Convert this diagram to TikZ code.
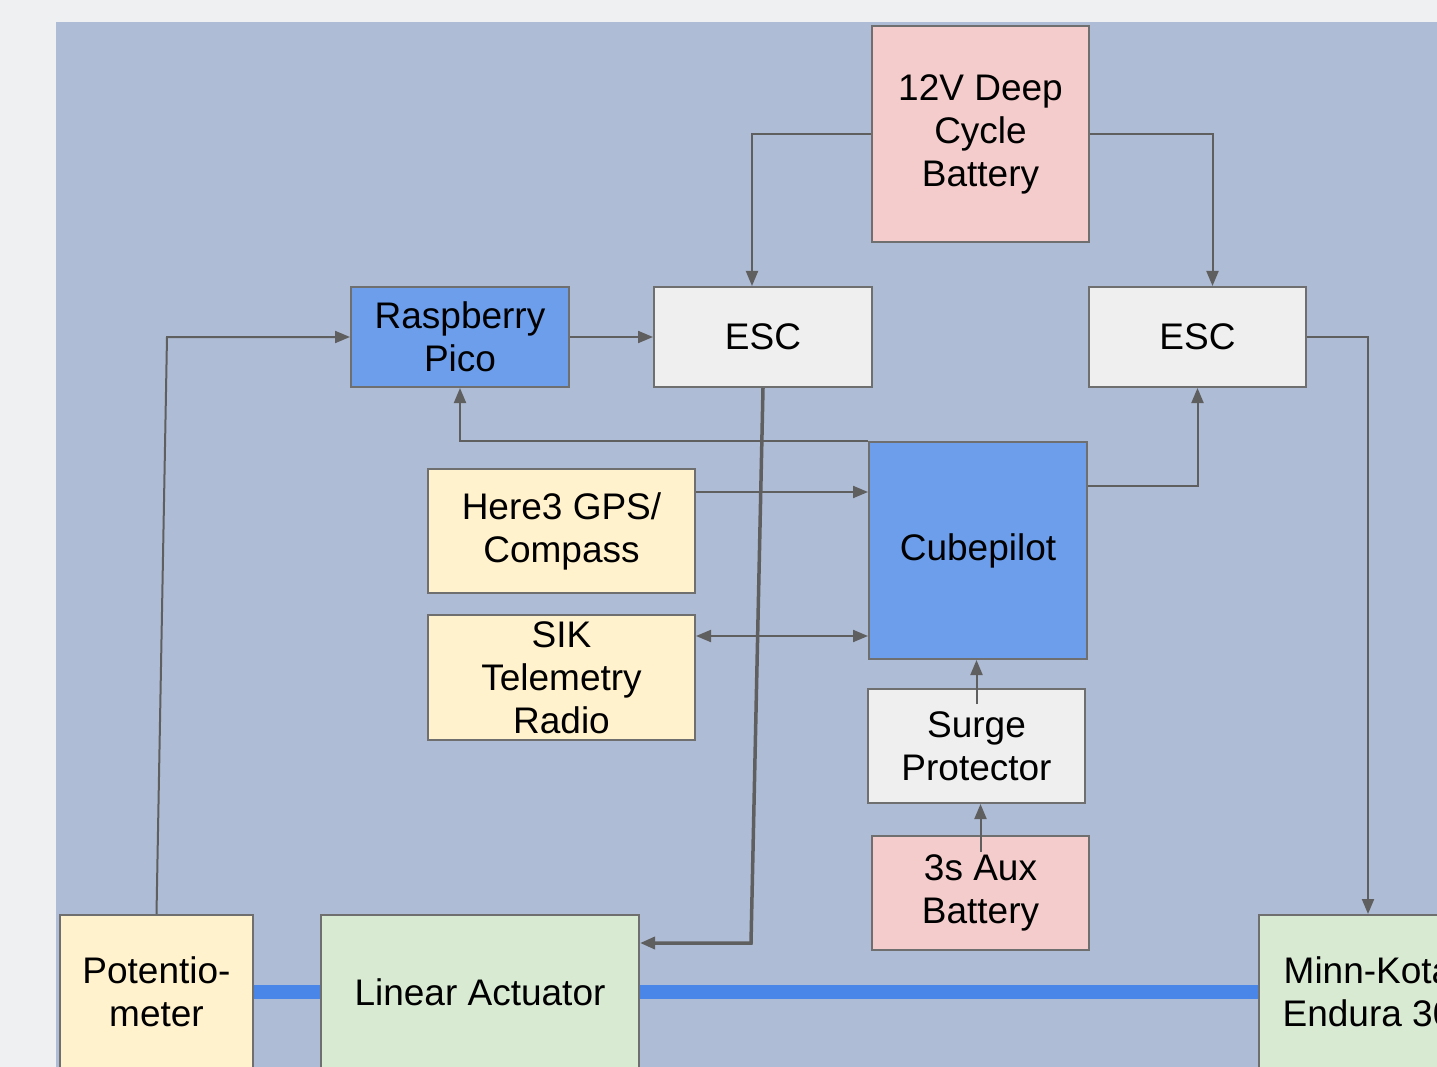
\documentclass[tikz,border=0pt]{standalone}
\usepackage{fontspec}
\setmainfont{Liberation Sans}
\usetikzlibrary{arrows.meta}
\definecolor{pagebg}{HTML}{EFF0F2}
\definecolor{panelbg}{HTML}{AEBCD5}
\definecolor{powerred}{HTML}{F4CCCC}
\definecolor{ctrlblue}{HTML}{6D9EEB}
\definecolor{escgray}{HTML}{EFEFEF}
\definecolor{sensyellow}{HTML}{FFF2CC}
\definecolor{motorgreen}{HTML}{D9EAD3}
\definecolor{wiregray}{HTML}{5F5F5F}
\definecolor{shaftblue}{HTML}{4A86E8}
\begin{document}
\begin{tikzpicture}[x=1pt,y=-1pt,
  font=\fontsize{37}{43}\selectfont,
  block/.style={draw=wiregray!90,line width=2pt,align=center,inner sep=0pt},
  wire/.style={draw=wiregray,line width=2pt,-{Triangle[length=15pt,width=12pt]}},
  shaft/.style={draw=shaftblue,line width=14pt}]
  \useasboundingbox (0,0) rectangle (1437,1067);
  \clip (0,0) rectangle (1437,1067);
  \fill[pagebg] (0,0) rectangle (1437,1067);
  \fill[panelbg] (56,22) rectangle (1437,1067);

  \node[block,fill=powerred,minimum width=217,minimum height=216] (batt) at (980.5,134) {12V Deep\\Cycle\\Battery};
  \node[block,fill=ctrlblue,minimum width=218,minimum height=100] (pico) at (460,337) {Raspberry\\Pico};
  \node[block,fill=escgray,minimum width=218,minimum height=100] (escA) at (763,337) {ESC};
  \node[block,fill=escgray,minimum width=217,minimum height=100] (escB) at (1197.5,337) {ESC};
  \node[block,fill=sensyellow,minimum width=267,minimum height=124] (gps) at (561.5,531) {Here3 GPS/\\Compass};
  \node[block,fill=sensyellow,minimum width=267,minimum height=125] (sik) at (561.5,677.5) {SIK\\Telemetry\\Radio};
  \node[block,fill=ctrlblue,minimum width=218,minimum height=217] (cube) at (978,550.5) {Cubepilot};
  \node[block,fill=escgray,minimum width=217,minimum height=114] (surge) at (976.5,746) {Surge\\Protector};
  \node[block,fill=powerred,minimum width=217,minimum height=114] (aux) at (980.5,893) {3s Aux\\Battery};
  \node[block,fill=sensyellow,minimum width=193,minimum height=154] (pot) at (156.5,992) {Potentio-\\meter};
  \node[block,fill=motorgreen,minimum width=318,minimum height=154] (lin) at (480,992) {Linear Actuator};
  \node[block,fill=motorgreen,minimum width=218,minimum height=154] (minn) at (1368,992) {Minn-Kota\\Endura 30};

  \draw[shaft] (pot.east) -- (lin.west);
  \draw[shaft] (lin.east) -- (minn.west);

  \draw[wire] (batt.west) -| ([xshift=-11]escA.north);
  \draw[wire] (batt.east) -| ([xshift=15]escB.north);
  \draw[wire] (pico.east) -- (escA.west);
  \draw[wire] (pot.north) -- ([xshift=-183]pico.west) -- (pico.west);
  \draw[wire,line width=3.5pt] (escA.south) -- ([xshift=111,yshift=49]lin.east) -- ([yshift=49]lin.east);
  \draw[wire] (cube.north west) -| (pico.south);
  \draw[wire] ([yshift=64.5]cube.east) -| (escB.south);
  \draw[wire] ([yshift=39]gps.east) -- ([yshift=39]gps.east -| cube.west);
  \draw[wire,{Triangle[length=15pt,width=12pt]}-{Triangle[length=15pt,width=12pt]}] ([yshift=41.5]sik.east) -- ([yshift=41.5]sik.east -| cube.west);
  \draw[wire] ([yshift=-16]surge.north) -- (cube.south -| surge.north);
  \draw[wire] ([yshift=-17]aux.north) -- (aux.north |- surge.south);
  \draw[wire] (escB.east) -| (minn.north);
\end{tikzpicture}
\end{document}
